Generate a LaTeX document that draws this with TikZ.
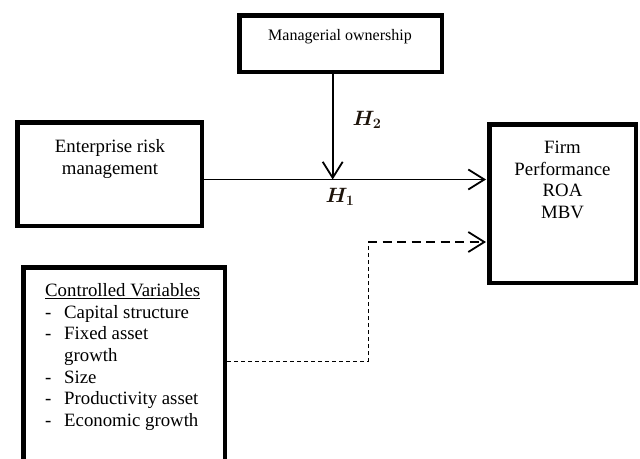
\documentclass[tikz,border=0pt]{standalone}
\usepackage{bm}
\usepackage{fontspec}
\setmainfont{Liberation Serif}
\usetikzlibrary{arrows.meta}
\begin{document}
\begin{tikzpicture}[x=1pt,y=-1pt,
  box/.style={draw=black,line width=4.5pt,rectangle,inner sep=0pt,fill=white},
  txt/.style={inner sep=0pt,align=center,font=\fontsize{18.8pt}{21.6pt}\selectfont},
  arr/.style={-{Straight Barb[length=16pt,width=20pt,line width=1.8pt]},line width=1.6pt,shorten >=1pt},
  thindash/.style={line width=1pt,dash pattern=on 4pt off 3pt},
  thickdash/.style={line width=2.2pt,dash pattern=on 9pt off 5.5pt},
  hlab/.style={inner sep=0pt,text=black!85!brown,font=\fontsize{21pt}{24pt}\selectfont}]
\useasboundingbox (0,0) rectangle (640,458);
\clip (0,0) rectangle (640,458);
% boxes
\node[box,minimum width=202.5pt,minimum height=56.5pt] (mo) at (340.5,43.5) {};
\node[box,minimum width=184.5pt,minimum height=103.5pt] (erm) at (109.5,174) {};
\node[box,minimum width=146.5pt,minimum height=158.5pt] (firm) at (562.5,203.5) {};
\node[box,minimum width=201.5pt,minimum height=195pt] (ctrl) at (124,365) {};
% texts
\node[txt,font=\fontsize{16pt}{19pt}\selectfont] (mo-t) at (340,37) {Managerial ownership};
\node[txt] (erm-t) at (110,159) {Enterprise risk\\management};
\node[txt] (firm-t) at (562.5,180) {Firm\\Performance\\ROA\\MBV};
\node[txt,align=left,anchor=west] (ctrl-t) at (45,357)
  {\underline{Controlled Variables}\\
   \makebox[19pt][l]{-}Capital structure\\
   \makebox[19pt][l]{-}Fixed asset\\
   \hspace*{19pt}growth\\
   \makebox[19pt][l]{-}Size\\
   \makebox[19pt][l]{-}Productivity asset\\
   \makebox[19pt][l]{-}Economic growth};
% connectors
\coordinate (j) at (332.7,179.5);
\coordinate (c1) at (368,361);
\coordinate (c2) at (368,242);
\draw[arr] (erm.east |- j) -- (firm.west |- j);
\draw[arr,shorten >=0pt] (mo.south -| j) -- (j);
\draw[thindash] (ctrl.east |- c1) -- (c1) -- (c2);
\draw[thickdash,arr] (c2) -- (firm.west |- c2);
% labels
\node[hlab] (h2) at (367,120) {$\bm{H_2}$};
\node[hlab] (h1) at (340,197) {$\bm{H_1}$};
\end{tikzpicture}
\end{document}
